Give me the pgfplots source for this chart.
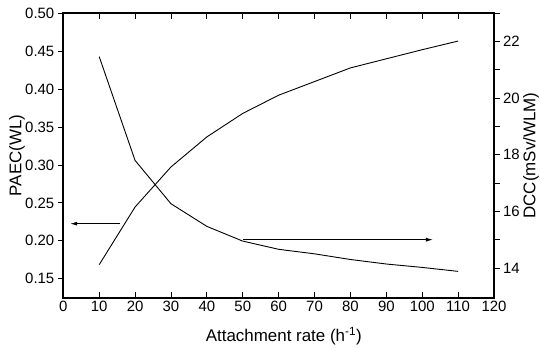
\documentclass[border=0pt]{standalone}
\usepackage{pgfplots}
\pgfplotsset{compat=1.18}
\usetikzlibrary{arrows.meta}
\usepackage{fontspec}
\setmainfont{Liberation Sans}
\begin{document}
\begin{tikzpicture}
\path[use as bounding box] (-63.3bp,-50.3bp) rectangle (476.7bp,297.7bp);
\pgfplotsset{common/.style={scale only axis, width=430.7bp, height=284.4bp,
  at={(0,0)}, anchor=south west, xmin=0, xmax=120,
  axis line style={line width=1.6bp},
  tick style={line width=0.9bp, black},
  major tick length=5.5bp, minor tick length=5.5bp,
  /pgf/number format/assume math mode=true,
  tick label style={font=\fontsize{15}{18}\selectfont},
  label style={font=\fontsize{17}{20}\selectfont}}}
% x axis (ticks inside, top and bottom)
\begin{axis}[common, ymin=0.125, ymax=0.5, tick align=inside,
  xtick={0,10,...,120}, ytick=\empty, xtick pos=both, xticklabel pos=bottom,
  xlabel={Attachment rate (h\textsuperscript{-1})},
  xlabel style={at={(axis description cs:0.512,-0.135)}, anchor=center}]
\end{axis}
% left axis: PAEC
\begin{axis}[common, ymin=0.125, ymax=0.5, tick align=outside,
  xtick=\empty, ytick={0.15,0.20,...,0.50}, ytick pos=left,
  yticklabel style={/pgf/number format/.cd, fixed, fixed zerofill, precision=2},
  ylabel={PAEC(WL)},
  ylabel style={at={(axis description cs:-0.1075,0.5)}, anchor=center}]
\addplot[black, line width=0.9bp] coordinates {
(10,0.1685) (20,0.2446) (30,0.2974) (40,0.337) (50,0.368) (60,0.392)
(70,0.410) (80,0.428) (90,0.440) (100,0.452) (110,0.4634)};
\draw[line width=0.9bp, -{Latex[length=7bp,width=4bp]}] (axis cs:15.8,0.2226) -- (axis cs:1.9,0.2226);
\end{axis}
% right axis: DCC
\begin{axis}[common, ymin=12.95, ymax=23, tick align=outside,
  axis y line*=right, axis x line=none,
  ytick={14,16,...,22}, minor ytick={15,17,...,23},
  ylabel={DCC(mSv/WLM)},
  ylabel style={at={(axis description cs:1.086,0.5)}, anchor=center, rotate=0}]
\addplot[black, line width=0.9bp] coordinates {
(10,21.47) (20,17.80) (30,16.27) (40,15.47) (50,14.95) (60,14.66)
(70,14.50) (80,14.30) (90,14.14) (100,14.02) (110,13.88)};
\draw[line width=0.9bp, -{Latex[length=7bp,width=4bp]}] (axis cs:50,15.0) -- (axis cs:103,15.0);
\end{axis}
\end{tikzpicture}
\end{document}
